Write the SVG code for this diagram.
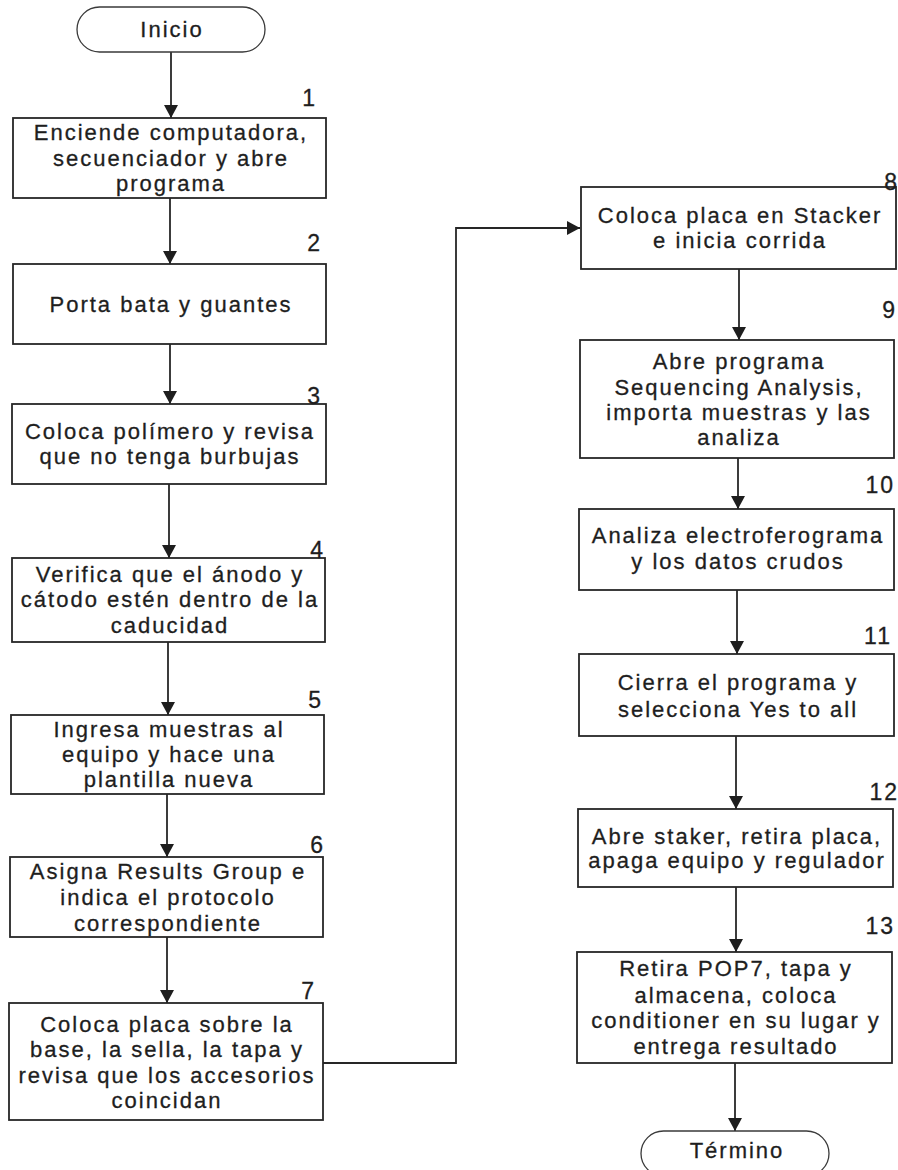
<svg xmlns="http://www.w3.org/2000/svg" width="898" height="1170" viewBox="0 0 898 1170">
  <style>
    .box { fill: #ffffff; stroke: #262626; stroke-width: 1.8; }
    .term { fill: #ffffff; stroke: #3a3a3a; stroke-width: 1.3; }
    .txt { font-family: "Liberation Sans", Arial, sans-serif; font-size: 22px; letter-spacing: 2px; fill: #1e1e1e; stroke: #1e1e1e; stroke-width: 0.3; text-anchor: middle; }
    .num { font-family: "Liberation Sans", Arial, sans-serif; font-size: 23px; letter-spacing: 2px; fill: #1e1e1e; stroke: #1e1e1e; stroke-width: 0.3; text-anchor: end; }
    .edge { fill: none; stroke: #262626; stroke-width: 1.8; marker-end: url(#arrow); }
  </style>
  <defs>
    <marker id="arrow" markerUnits="userSpaceOnUse" viewBox="0 0 13 14" refX="13" refY="7" markerWidth="13" markerHeight="14" orient="auto">
      <path d="M0,0 L13,7 L0,14 z" fill="#1e1e1e"/>
    </marker>
  </defs>
  <rect width="898" height="1170" fill="#ffffff"/>

  <!-- connectors -->
  <g id="connectors">
    <line class="edge" x1="171" y1="52" x2="171" y2="118"/>
    <line class="edge" x1="170" y1="198" x2="170" y2="264"/>
    <line class="edge" x1="170" y1="344" x2="170" y2="404"/>
    <line class="edge" x1="169" y1="484" x2="169" y2="558"/>
    <line class="edge" x1="168" y1="642" x2="168" y2="715"/>
    <line class="edge" x1="167" y1="794" x2="167" y2="857"/>
    <line class="edge" x1="167" y1="937" x2="167" y2="1003"/>
    <polyline class="edge" points="323,1063 456,1063 456,228 580,228"/>
    <line class="edge" x1="739" y1="269" x2="739" y2="340"/>
    <line class="edge" x1="738" y1="458" x2="738" y2="509"/>
    <line class="edge" x1="737" y1="590" x2="737" y2="654"/>
    <line class="edge" x1="736" y1="736" x2="736" y2="809"/>
    <line class="edge" x1="736" y1="887" x2="736" y2="952"/>
    <line class="edge" x1="735" y1="1063" x2="735" y2="1131"/>
  </g>

  <!-- start -->
  <g id="inicio">
    <rect class="term" x="77" y="7" width="188" height="45" rx="22.5" ry="22.5"/>
    <text class="txt" x="172" y="37">Inicio</text>
  </g>

  <!-- left column -->
  <g id="paso1">
    <rect class="box" x="13" y="118" width="313" height="80"/>
    <text class="txt" x="171" y="140">Enciende computadora,</text>
    <text class="txt" x="171" y="166">secuenciador y abre</text>
    <text class="txt" x="171" y="191">programa</text>
    <text class="num" x="317" y="106">1</text>
  </g>
  <g id="paso2">
    <rect class="box" x="13" y="264" width="313" height="80"/>
    <text class="txt" x="171" y="312">Porta bata y guantes</text>
    <text class="num" x="322" y="251">2</text>
  </g>
  <g id="paso3">
    <rect class="box" x="12" y="404" width="314" height="80"/>
    <text class="txt" x="170" y="439">Coloca polímero y revisa</text>
    <text class="txt" x="170" y="464">que no tenga burbujas</text>
    <text class="num" x="322" y="404">3</text>
  </g>
  <g id="paso4">
    <rect class="box" x="12" y="558" width="313" height="84"/>
    <text class="txt" x="170" y="582">Verifica que el ánodo y</text>
    <text class="txt" x="170" y="607">cátodo estén dentro de la</text>
    <text class="txt" x="170" y="633">caducidad</text>
    <text class="num" x="325" y="558">4</text>
  </g>
  <g id="paso5">
    <rect class="box" x="11" y="715" width="313" height="79"/>
    <text class="txt" x="169" y="737">Ingresa muestras al</text>
    <text class="txt" x="169" y="762">equipo y hace una</text>
    <text class="txt" x="169" y="787">plantilla nueva</text>
    <text class="num" x="323" y="708">5</text>
  </g>
  <g id="paso6">
    <rect class="box" x="10" y="857" width="313" height="80"/>
    <text class="txt" x="168" y="879">Asigna Results Group e</text>
    <text class="txt" x="168" y="905">indica el protocolo</text>
    <text class="txt" x="168" y="931">correspondiente</text>
    <text class="num" x="325" y="853">6</text>
  </g>
  <g id="paso7">
    <rect class="box" x="9" y="1003" width="314" height="117"/>
    <text class="txt" x="167" y="1032">Coloca placa sobre la</text>
    <text class="txt" x="167" y="1057">base, la sella, la tapa y</text>
    <text class="txt" x="167" y="1083">revisa que los accesorios</text>
    <text class="txt" x="167" y="1108">coincidan</text>
    <text class="num" x="316" y="999">7</text>
  </g>

  <!-- right column -->
  <g id="paso8">
    <rect class="box" x="581" y="187" width="315" height="82"/>
    <text class="txt" x="740" y="223">Coloca placa en Stacker</text>
    <text class="txt" x="740" y="248">e inicia corrida</text>
    <text class="num" x="899" y="190">8</text>
  </g>
  <g id="paso9">
    <rect class="box" x="580" y="340" width="314" height="118"/>
    <text class="txt" x="739" y="369">Abre programa</text>
    <text class="txt" x="739" y="395">Sequencing Analysis,</text>
    <text class="txt" x="739" y="420">importa muestras y las</text>
    <text class="txt" x="739" y="445">analiza</text>
    <text class="num" x="897" y="318">9</text>
  </g>
  <g id="paso10">
    <rect class="box" x="579" y="509" width="315" height="81"/>
    <text class="txt" x="738" y="543">Analiza electroferograma</text>
    <text class="txt" x="738" y="569">y los datos crudos</text>
    <text class="num" x="895" y="493">10</text>
  </g>
  <g id="paso11">
    <rect class="box" x="579" y="654" width="315" height="82"/>
    <text class="txt" x="738" y="690">Cierra el programa y</text>
    <text class="txt" x="738" y="717">selecciona Yes to all</text>
    <text class="num" x="892" y="644">11</text>
  </g>
  <g id="paso12">
    <rect class="box" x="578" y="809" width="315" height="78"/>
    <text class="txt" x="737" y="844">Abre staker, retira placa,</text>
    <text class="txt" x="737" y="868">apaga equipo y regulador</text>
    <text class="num" x="899" y="800">12</text>
  </g>
  <g id="paso13">
    <rect class="box" x="577" y="952" width="315" height="111"/>
    <text class="txt" x="736" y="976">Retira POP7, tapa y</text>
    <text class="txt" x="736" y="1003">almacena, coloca</text>
    <text class="txt" x="736" y="1028">conditioner en su lugar y</text>
    <text class="txt" x="736" y="1054">entrega resultado</text>
    <text class="num" x="895" y="934">13</text>
  </g>

  <!-- end -->
  <g id="termino">
    <rect class="term" x="641" y="1131" width="188" height="45" rx="22.5" ry="22.5"/>
    <text class="txt" x="737" y="1158">Término</text>
  </g>
</svg>
